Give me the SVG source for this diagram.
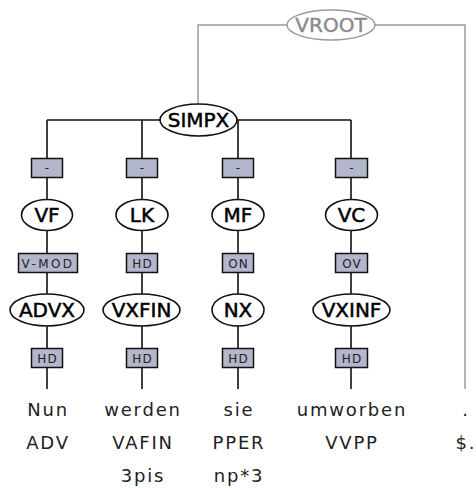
<svg xmlns="http://www.w3.org/2000/svg" width="476" height="488" viewBox="0 0 476 488">
<style>
.bg{fill:#fff}
.ln{fill:none;stroke:#111;stroke-width:1.6}
.gl{fill:none;stroke:#9a9a9a;stroke-width:1.5}
.el{fill:#fff;stroke:#111;stroke-width:1.6}
.gel{fill:#fff;stroke:#9a9a9a;stroke-width:1.5}
.bx{fill:#b3b7cc;stroke:#111;stroke-width:1.5}
.nt{font-family:"DejaVu Sans",sans-serif;font-size:20px;fill:#000;stroke:#000;stroke-width:0.5;text-anchor:middle}
.gt{font-family:"DejaVu Sans",sans-serif;font-size:20px;fill:#8a8a8a;stroke:#8a8a8a;stroke-width:0.4;text-anchor:middle}
.et{font-family:"DejaVu Sans",sans-serif;font-size:12px;fill:#222;text-anchor:middle;letter-spacing:1px}
.wt{font-family:"DejaVu Sans",sans-serif;font-size:18px;fill:#222;text-anchor:middle;letter-spacing:1.8px}
</style>
<rect class="bg" x="0" y="0" width="476" height="488"/>
<g id="connectors">
<path class="gl" d="M198,104 V25 H288 M375,25 H465 V389"/>
<path class="ln" d="M47,120 H351 M47,120 V389 M142,120 V389 M238,120 V389 M351,120 V389"/>
</g>
<g id="n-VROOT"><ellipse class="gel" cx="331" cy="25" rx="44" ry="15"/><text class="gt" x="331" y="32">VROOT</text></g>
<g id="n-SIMPX"><ellipse class="el" cx="198.5" cy="120" rx="38.5" ry="16"/><text class="nt" x="198.5" y="127">SIMPX</text></g>
<g id="e-1"><rect class="bx" x="31.5" y="158.5" width="31" height="19"/><text class="et" x="47.5" y="172">-</text></g>
<g id="e-2"><rect class="bx" x="126.5" y="158.5" width="31" height="19"/><text class="et" x="142.5" y="172">-</text></g>
<g id="e-3"><rect class="bx" x="222.5" y="158.5" width="31" height="19"/><text class="et" x="238.5" y="172">-</text></g>
<g id="e-4"><rect class="bx" x="335.5" y="158.5" width="32" height="19"/><text class="et" x="352" y="172">-</text></g>
<g id="n-VF"><ellipse class="el" cx="47" cy="215" rx="25.5" ry="15.5"/><text class="nt" x="47" y="222">VF</text></g>
<g id="n-LK"><ellipse class="el" cx="142" cy="215" rx="26" ry="15.5"/><text class="nt" x="142" y="222">LK</text></g>
<g id="n-MF"><ellipse class="el" cx="238" cy="215" rx="26" ry="15.5"/><text class="nt" x="238" y="222">MF</text></g>
<g id="n-VC"><ellipse class="el" cx="351.5" cy="215" rx="26" ry="15.5"/><text class="nt" x="351.5" y="222">VC</text></g>
<g id="e-VMOD"><rect class="bx" x="18.5" y="253.5" width="59" height="19"/><text class="et" x="48" y="267.5" style="letter-spacing:2.4px">V-MOD</text></g>
<g id="e-HD1"><rect class="bx" x="126.5" y="253.5" width="31" height="19"/><text class="et" x="142.5" y="267.5">HD</text></g>
<g id="e-ON"><rect class="bx" x="222.5" y="253.5" width="31" height="19"/><text class="et" x="238.5" y="267.5">ON</text></g>
<g id="e-OV"><rect class="bx" x="335.5" y="253.5" width="32" height="19"/><text class="et" x="352" y="267.5">OV</text></g>
<g id="n-ADVX"><ellipse class="el" cx="47" cy="310" rx="37" ry="16"/><text class="nt" x="47" y="317">ADVX</text></g>
<g id="n-VXFIN"><ellipse class="el" cx="141.5" cy="310" rx="38.5" ry="16"/><text class="nt" x="141.5" y="317">VXFIN</text></g>
<g id="n-NX"><ellipse class="el" cx="238" cy="310" rx="26" ry="16"/><text class="nt" x="238" y="317">NX</text></g>
<g id="n-VXINF"><ellipse class="el" cx="351.5" cy="310" rx="38.5" ry="16"/><text class="nt" x="351.5" y="317">VXINF</text></g>
<g id="e-HD2"><rect class="bx" x="31.5" y="348.5" width="31" height="19"/><text class="et" x="47.5" y="362.5">HD</text></g>
<g id="e-HD3"><rect class="bx" x="126.5" y="348.5" width="31" height="19"/><text class="et" x="142.5" y="362.5">HD</text></g>
<g id="e-HD4"><rect class="bx" x="222.5" y="348.5" width="31" height="19"/><text class="et" x="238.5" y="362.5">HD</text></g>
<g id="e-HD5"><rect class="bx" x="335.5" y="348.5" width="32" height="19"/><text class="et" x="352" y="362.5">HD</text></g>
<g id="t-Nun"><text class="wt" x="48" y="416">Nun</text><text class="wt" x="48" y="449">ADV</text></g>
<g id="t-werden"><text class="wt" x="143" y="416">werden</text><text class="wt" x="143" y="449">VAFIN</text><text class="wt" x="143" y="482">3pis</text></g>
<g id="t-sie"><text class="wt" x="239" y="416">sie</text><text class="wt" x="239" y="449">PPER</text><text class="wt" x="239" y="482">np*3</text></g>
<g id="t-umworben"><text class="wt" x="352" y="416">umworben</text><text class="wt" x="352" y="449">VVPP</text></g>
<g id="t-dot"><text class="wt" x="466" y="416">.</text><text class="wt" x="466" y="449">$.</text></g>
</svg>
